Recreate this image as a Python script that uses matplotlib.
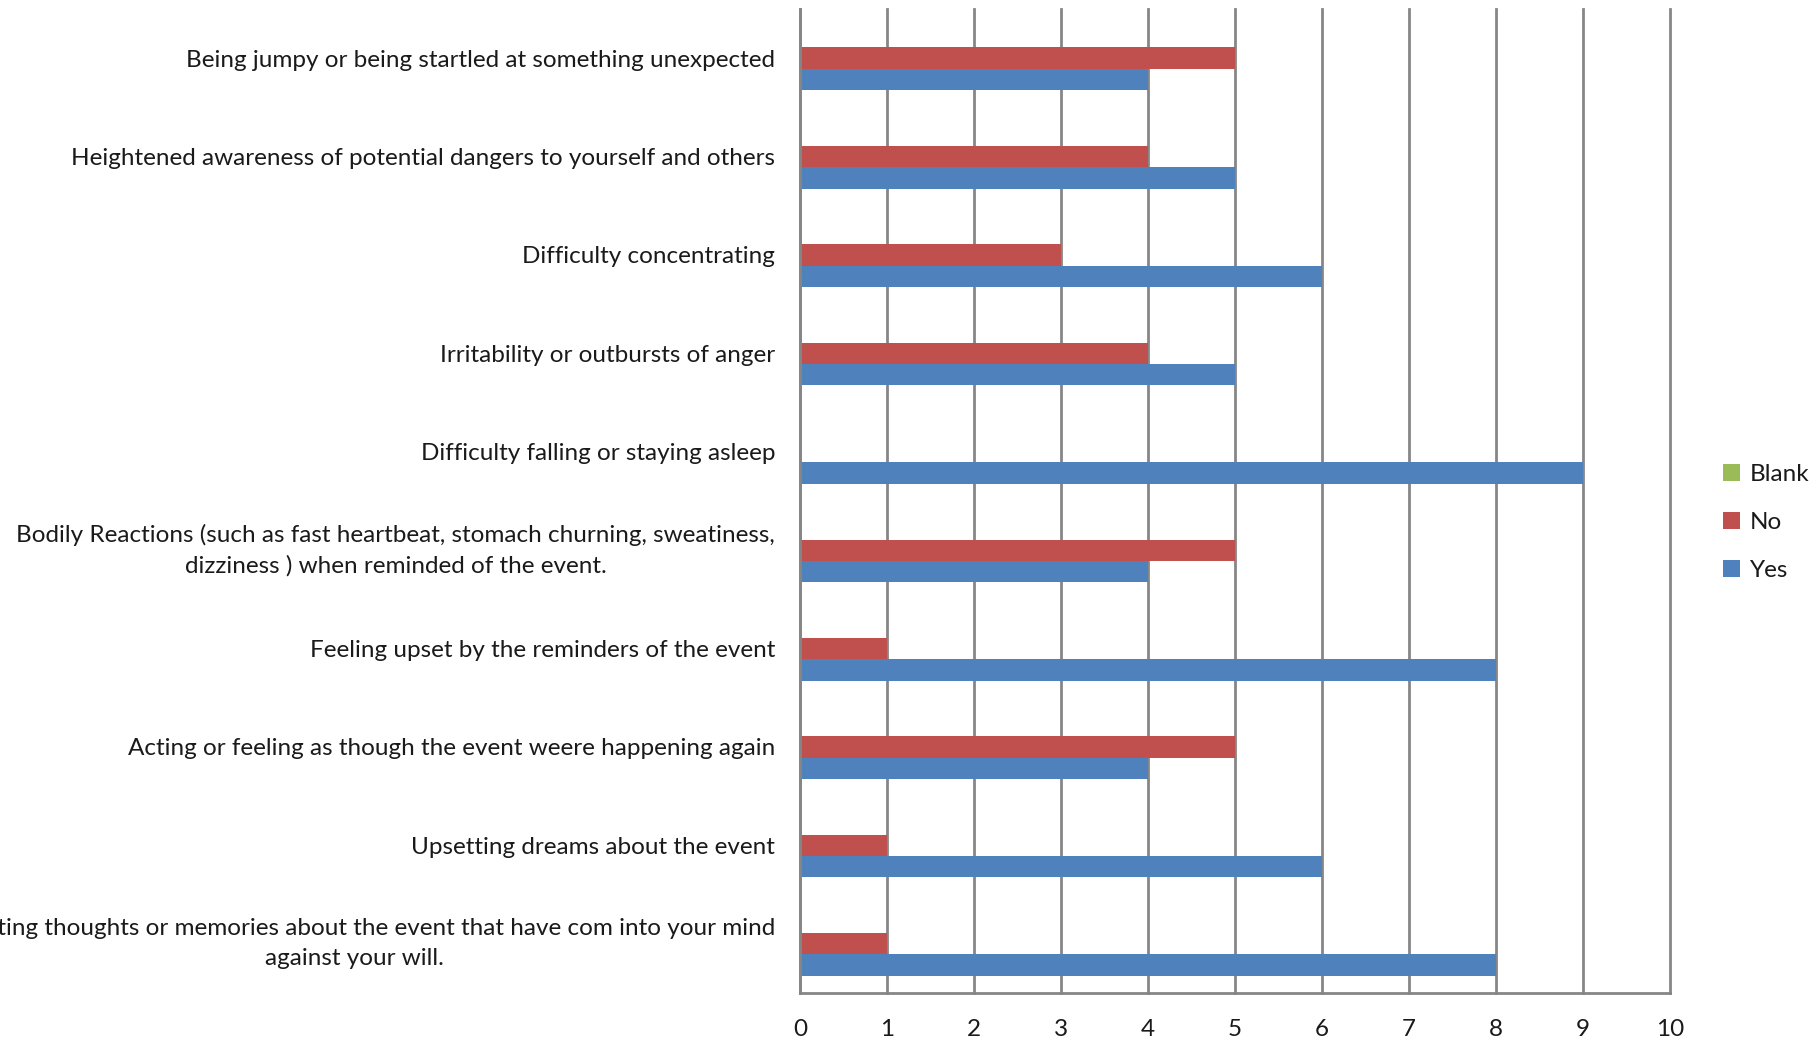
import matplotlib as mpl
mpl.use('Agg')
import matplotlib.pyplot as plt
import numpy as np

plt.rc('font', family=['Lato', 'DejaVu Sans'], size=17.5)

# symptoms, listed from top to bottom
symptoms = [
    "Being jumpy or being startled at something unexpected",
    "Heightened awareness of potential dangers to yourself and others",
    "Difficulty concentrating",
    "Irritability or outbursts of anger",
    "Difficulty falling or staying asleep",
    "Bodily Reactions (such as fast heartbeat, stomach churning, sweatiness,\ndizziness ) when reminded of the event.",
    "Feeling upset by the reminders of the event",
    "Acting or feeling as though the event weere happening again",
    "Upsetting dreams about the event",
    "Upsetting thoughts or memories about the event that have com into your mind\nagainst your will.",
]
yes = [4, 5, 6, 5, 9, 4, 8, 4, 6, 8]
no = [5, 4, 3, 4, 0, 5, 1, 5, 1, 1]
blank = [0, 0, 0, 0, 0, 0, 0, 0, 0, 0]

c_yes = '#4F81BD'
c_no = '#C0504D'
c_blank = '#9BBB59'
grid_c = '#868686'

fig = plt.figure(figsize=(18.10, 10.41), dpi=100)
ax = fig.add_axes([0.442, 0.0461, 0.4807, 0.9453])

y = np.arange(len(symptoms))
h = 0.217
ax.barh(y - h, blank, height=h, color=c_blank, label='Blank', zorder=3)
ax.barh(y, no, height=h, color=c_no, label='No', zorder=3)
ax.barh(y + h, yes, height=h, color=c_yes, label='Yes', zorder=3)

ax.set_xlim(0, 10)
ax.set_ylim(len(symptoms) - 0.5, -0.5)
ax.set_xticks(range(11))
ax.set_yticks(y)
ax.set_yticklabels(symptoms, multialignment='center', linespacing=1.52,
                   color='#1a1a1a')
# two-line labels sit centred on their bars
for lab in ax.get_yticklabels():
    if '\n' in lab.get_text():
        lab.set_va('center')
ax.tick_params(axis='x', length=0, pad=18.5, colors='#1a1a1a')
ax.tick_params(axis='y', length=0, pad=18)

ax.grid(axis='x', color=grid_c, linewidth=2, zorder=0)
for gl in ax.get_xgridlines():
    gl.set_clip_on(False)
for s in ['top', 'right']:
    ax.spines[s].set_visible(False)
for s in ['left', 'bottom']:
    ax.spines[s].set_color(grid_c)
    ax.spines[s].set_linewidth(2)
    ax.spines[s].set_zorder(4)

leg = ax.legend(loc='center left', bbox_to_anchor=(1.036, 0.478), frameon=False,
                handlelength=0.7, handleheight=0.7, handletextpad=0.4,
                labelspacing=1.1)
for t in leg.get_texts():
    t.set_color('#1a1a1a')

fig.savefig('out.png', dpi=100)
